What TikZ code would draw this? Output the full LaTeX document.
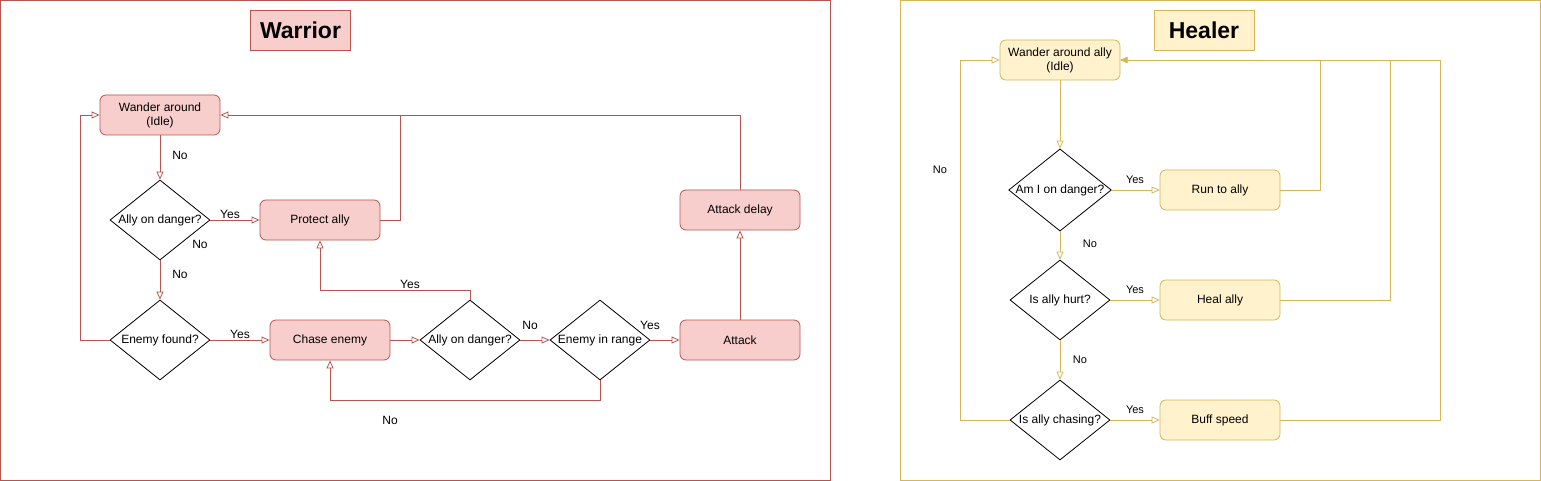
\documentclass[tikz,border=0pt]{standalone}
\usepackage{fontspec}
\setmainfont{Liberation Sans}
\usetikzlibrary{arrows.meta,shapes.geometric}
\definecolor{wfill}{HTML}{F8CECC}
\definecolor{wline}{HTML}{B85450}
\definecolor{hfill}{HTML}{FFF2CC}
\definecolor{hline}{HTML}{D6B656}
\tikzset{
  wbox/.style={draw=wline,fill=wfill,rounded corners=6pt,minimum width=120pt,minimum height=40pt,inner sep=0pt,align=center,font=\fontsize{12pt}{14pt}\selectfont,line width=0.8pt},
  hbox/.style={draw=hline,fill=hfill,rounded corners=6pt,minimum width=120pt,minimum height=40pt,inner sep=0pt,align=center,font=\fontsize{12pt}{14pt}\selectfont,line width=0.8pt},
  dec/.style={draw=black,fill=white,diamond,aspect=1.25,minimum width=100pt,minimum height=80pt,inner sep=0pt,font=\fontsize{12pt}{14pt}\selectfont,line width=0.8pt},
  wtitle/.style={draw=wline,fill=wfill,minimum width=100pt,minimum height=40pt,inner sep=0pt,font=\bfseries\fontsize{23pt}{26pt}\selectfont,line width=0.8pt},
  htitle/.style={draw=hline,fill=hfill,minimum width=100pt,minimum height=40pt,inner sep=0pt,font=\bfseries\fontsize{23pt}{26pt}\selectfont,line width=0.8pt},
  wedge/.style={draw=wline,line width=0.8pt,-{Triangle[open,length=8pt,width=7pt]}},
  hedge/.style={draw=hline,line width=0.8pt,-{Triangle[open,length=8pt,width=7pt]}},
  hedgef/.style={draw=hline,line width=0.8pt,-{Triangle[length=7pt,width=6pt]}},
  wplain/.style={draw=wline,line width=0.8pt},
  hplain/.style={draw=hline,line width=0.8pt},
  lbl/.style={font=\fontsize{12pt}{14pt}\selectfont,inner sep=0pt},
  hlbl/.style={font=\fontsize{11pt}{13pt}\selectfont,inner sep=0pt},
}
\begin{document}
\begin{tikzpicture}[x=1pt,y=-1pt]
\useasboundingbox (0,0) rectangle (1541,481);
% frames
\draw[wline,line width=1pt] (0.5,0.5) rectangle (830,480);
\draw[hline,line width=1pt] (900.5,0.5) rectangle (1540,480);
% Warrior
\node[wtitle] (wt) at (300.5,30.5) {Warrior};
\node[wbox] (wander) at (160,115) {Wander around\\(Idle)};
\node[dec] (ally1) at (160,220) {Ally on danger?};
\node[wbox] (protect) at (320,220) {Protect ally};
\node[dec] (found) at (160,340) {Enemy found?};
\node[wbox] (chase) at (330,340) {Chase enemy};
\node[dec] (ally2) at (470,340) {Ally on danger?};
\node[dec] (range) at (600,340) {Enemy in range};
\node[wbox] (attack) at (740,340) {Attack};
\node[wbox] (delay) at (740,210) {Attack delay};
\coordinate (c1) at (400,115);
\draw[wedge] (wander.south) -- (ally1.north);
\draw[wedge] (ally1.east) -- (protect.west);
\draw[wedge] (ally1.south) -- (found.north);
\draw[wedge] (protect.east) -- (400,220) -- (c1) -- (wander.east);
\draw[wplain] (delay.north) |- (c1);
\draw[wedge] (found.west) -- (80,340) |- (wander.west);
\draw[wedge] (found.east) -- (chase.west);
\draw[wedge] (chase.east) -- (ally2.west);
\draw[wedge] (ally2.north) -- (470,290) -| (protect.south);
\draw[wedge] (ally2.east) -- (range.west);
\draw[wedge] (range.east) -- (attack.west);
\draw[wedge] (range.south) -- (600,400) -| (chase.south);
\draw[wedge] (attack.north) -- (delay.south);
\node[lbl] at (180,155) {No};
\node[lbl] at (230,214) {Yes};
\node[lbl] at (200,244) {No};
\node[lbl] at (180,274) {No};
\node[lbl] at (240,334) {Yes};
\node[lbl] at (410,284) {Yes};
\node[lbl] at (530,325) {No};
\node[lbl] at (650,325) {Yes};
\node[lbl] at (390,420) {No};
% Healer
\node[htitle] (ht) at (1204,30.5) {Healer};
\node[hbox] (hw) at (1060,60) {Wander around ally\\(Idle)};
\node[dec] (danger) at (1060,190) {Am I on danger?};
\node[hbox] (run) at (1220,190) {Run to ally};
\node[dec] (hurt) at (1060,300) {Is ally hurt?};
\node[hbox] (heal) at (1220,300) {Heal ally};
\node[dec] (chasing) at (1060,420) {Is ally chasing?};
\node[hbox] (buff) at (1220,420) {Buff speed};
\draw[hedge] (hw.south) -- (danger.north);
\draw[hedge] (danger.east) -- (run.west);
\draw[hedge] (danger.south) -- (hurt.north);
\draw[hedge] (hurt.east) -- (heal.west);
\draw[hedge] (hurt.south) -- (chasing.north);
\draw[hedge] (chasing.east) -- (buff.west);
\draw[hedge] (chasing.west) -- (960,420) |- (hw.west);
\draw[hedgef] (run.east) -- (1320,190) |- (hw.east);
\draw[hedgef] (heal.east) -- (1390,300) |- (hw.east);
\draw[hedgef] (buff.east) -- (1440,420) |- (hw.east);
\node[hlbl] at (1135,180) {Yes};
\node[hlbl] at (1090,244) {No};
\node[hlbl] at (1135,290) {Yes};
\node[hlbl] at (1080,360) {No};
\node[hlbl] at (1135,410) {Yes};
\node[hlbl] at (940,170) {No};
\end{tikzpicture}
\end{document}
